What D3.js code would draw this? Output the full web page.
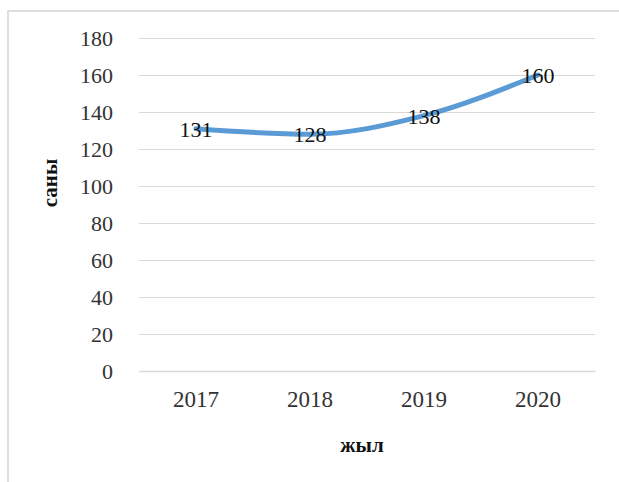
<!DOCTYPE html>
<html>
<head>
<meta charset="utf-8">
<script src="https://cdn.jsdelivr.net/npm/d3@7/dist/d3.min.js"></script>
<style>
html,body{margin:0;padding:0;background:#fff;}
svg{display:block;}
text{font-family:"Liberation Serif","Times New Roman",serif;}
</style>
</head>
<body>
<svg id="chart" width="619" height="482"></svg>
<script>
const years = ["2017", "2018", "2019", "2020"];
const counts = [131, 128, 138, 160];
const yTicks = [0, 20, 40, 60, 80, 100, 120, 140, 160, 180];
const xTitle = "жыл";
const yTitle = "саны";

const svg = d3.select("#chart");
const W = 619, H = 482;
const m = {left: 139, right: 24, top: 38, bottom: 111};

// chart border
svg.append("rect")
  .attr("x", 8).attr("y", 11)
  .attr("width", W + 10).attr("height", H + 10)
  .attr("fill", "none").attr("stroke", "#dedede").attr("stroke-width", 2);

const x = d3.scaleBand().domain(years).range([m.left, W - m.right]);
const y = d3.scaleLinear().domain([0, 180]).range([H - m.bottom, m.top]);

// gridlines
const yAxis = d3.axisLeft(y).tickValues(yTicks).tickSize(-(W - m.right - m.left)).tickPadding(26);
const gy = svg.append("g").attr("transform", `translate(${m.left},0)`).call(yAxis);
gy.select(".domain").remove();
gy.selectAll(".tick line").attr("stroke", "#d9d9d9").attr("stroke-width", 1);
gy.selectAll(".tick text").attr("font-size", 22).attr("fill", "#333")
  .attr("font-family", "Liberation Serif");

// x axis
const xAxis = d3.axisBottom(x).tickSize(0).tickPadding(20);
const gx = svg.append("g").attr("transform", `translate(0,${y(0)})`).call(xAxis);
gx.select(".domain").attr("stroke", "#d9d9d9").attr("stroke-width", 1.5);
gx.selectAll(".tick text").attr("font-size", 23).attr("fill", "#333")
  .attr("font-family", "Liberation Serif");

// line
const data = years.map((yr, i) => ({yr, v: counts[i]}));
const line = d3.line().x(d => x(d.yr) + x.bandwidth() / 2).y(d => y(d.v)).curve(d3.curveMonotoneX);
svg.append("path").datum(data)
  .attr("d", line).attr("fill", "none")
  .attr("stroke", "#5b9bd5").attr("stroke-width", 5).attr("stroke-linecap", "round");

// data labels
svg.selectAll(".lbl").data(data).enter().append("text")
  .attr("x", d => x(d.yr) + x.bandwidth() / 2)
  .attr("y", d => y(d.v) + 8)
  .attr("text-anchor", "middle")
  .attr("font-size", 22).attr("fill", "#111")
  .text(d => d.v);

// axis titles
svg.append("text").attr("x", 362).attr("y", 452).attr("text-anchor", "middle")
  .attr("font-size", 21).attr("font-weight", "bold").attr("fill", "#111").text(xTitle);
svg.append("text").attr("transform", "translate(57,183) rotate(-90)").attr("text-anchor", "middle")
  .attr("font-size", 21).attr("font-weight", "bold").attr("fill", "#111").text(yTitle);
</script>
</body>
</html>
